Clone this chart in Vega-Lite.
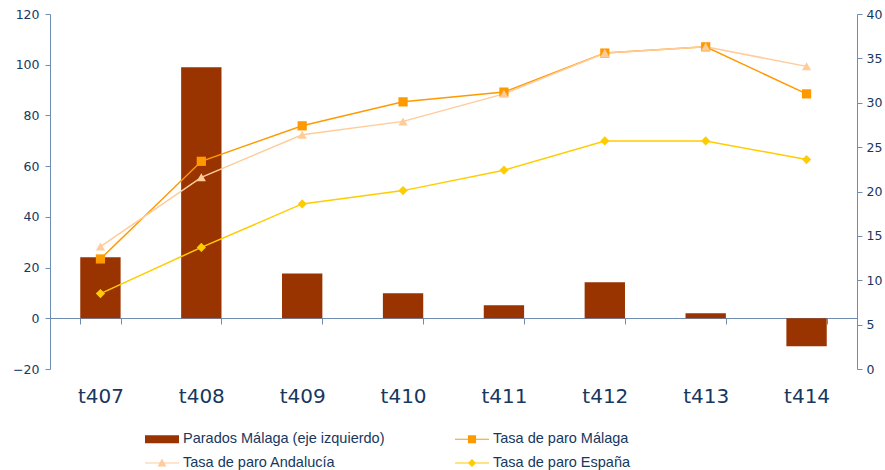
{
  "$schema": "https://vega.github.io/schema/vega-lite/v6.json",
  "width": 807,
  "height": 355,
  "autosize": "none",
  "padding": {"left": 50, "top": 14, "right": 28, "bottom": 101},
  "background": "white",
  "config": {
    "view": {"stroke": null},
    "axis": {"grid": false, "domainColor": "#6F8DB0", "tickColor": "#6F8DB0", "labelColor": "#17375E", "labelFont": "DejaVu Sans", "labelFontSize": 12.5, "titleFontSize": 0},
    "line": {"strokeWidth": 1.5}
  },
  "data": {
    "values": [
      {"periodo": "t407", "serie": "Parados Málaga (eje izquierdo)", "valor": 24.1},
      {"periodo": "t408", "serie": "Parados Málaga (eje izquierdo)", "valor": 99},
      {"periodo": "t409", "serie": "Parados Málaga (eje izquierdo)", "valor": 17.7},
      {"periodo": "t410", "serie": "Parados Málaga (eje izquierdo)", "valor": 9.9},
      {"periodo": "t411", "serie": "Parados Málaga (eje izquierdo)", "valor": 5.1},
      {"periodo": "t412", "serie": "Parados Málaga (eje izquierdo)", "valor": 14.2},
      {"periodo": "t413", "serie": "Parados Málaga (eje izquierdo)", "valor": 2.0},
      {"periodo": "t414", "serie": "Parados Málaga (eje izquierdo)", "valor": -11.0},
      {"periodo": "t407", "serie": "Tasa de paro Málaga", "valor": 12.4},
      {"periodo": "t408", "serie": "Tasa de paro Málaga", "valor": 23.4},
      {"periodo": "t409", "serie": "Tasa de paro Málaga", "valor": 27.4},
      {"periodo": "t410", "serie": "Tasa de paro Málaga", "valor": 30.1},
      {"periodo": "t411", "serie": "Tasa de paro Málaga", "valor": 31.2},
      {"periodo": "t412", "serie": "Tasa de paro Málaga", "valor": 35.6},
      {"periodo": "t413", "serie": "Tasa de paro Málaga", "valor": 36.3},
      {"periodo": "t414", "serie": "Tasa de paro Málaga", "valor": 31.0},
      {"periodo": "t407", "serie": "Tasa de paro Andalucía", "valor": 13.8},
      {"periodo": "t408", "serie": "Tasa de paro Andalucía", "valor": 21.6},
      {"periodo": "t409", "serie": "Tasa de paro Andalucía", "valor": 26.4},
      {"periodo": "t410", "serie": "Tasa de paro Andalucía", "valor": 27.9},
      {"periodo": "t411", "serie": "Tasa de paro Andalucía", "valor": 31.0},
      {"periodo": "t412", "serie": "Tasa de paro Andalucía", "valor": 35.6},
      {"periodo": "t413", "serie": "Tasa de paro Andalucía", "valor": 36.3},
      {"periodo": "t414", "serie": "Tasa de paro Andalucía", "valor": 34.1},
      {"periodo": "t407", "serie": "Tasa de paro España", "valor": 8.5},
      {"periodo": "t408", "serie": "Tasa de paro España", "valor": 13.7},
      {"periodo": "t409", "serie": "Tasa de paro España", "valor": 18.6},
      {"periodo": "t410", "serie": "Tasa de paro España", "valor": 20.1},
      {"periodo": "t411", "serie": "Tasa de paro España", "valor": 22.4},
      {"periodo": "t412", "serie": "Tasa de paro España", "valor": 25.7},
      {"periodo": "t413", "serie": "Tasa de paro España", "valor": 25.7},
      {"periodo": "t414", "serie": "Tasa de paro España", "valor": 23.6}
    ]
  },
  "encoding": {
    "x": {
      "field": "periodo", "type": "nominal", "sort": null,
      "scale": {"paddingInner": 0.6, "paddingOuter": 0.3},
      "axis": {"title": null, "orient": "bottom", "offset": -51, "tickBand": "extent", "tickSize": 6, "labelAngle": 0, "labelPadding": 62, "labelFontSize": 20, "labelFont": "DejaVu Sans", "labelColor": "#17375E"}
    },
    "color": {
      "field": "serie", "type": "nominal",
      "scale": {
        "domain": ["Parados Málaga (eje izquierdo)", "Tasa de paro Andalucía", "Tasa de paro Málaga", "Tasa de paro España"],
        "range": ["#993300", "#FFCC99", "#FF9900", "#FFCC00"]
      },
      "legend": {
        "title": null, "orient": "none", "legendX": 95, "legendY": 408, "columns": 2,
        "columnPadding": 70, "rowPadding": -17, "symbolSize": 1156, "labelOffset": 4,
        "labelFont": "Liberation Sans", "labelFontSize": 14.5, "labelColor": "#17375E", "labelLimit": 400,
        "encode": {
          "symbols": {
            "update": {
              "shape": {"signal": "datum.value === 'Parados Málaga (eje izquierdo)' ? 'M-1,-0.24H1V0.24H-1Z' : datum.value === 'Tasa de paro Málaga' ? 'M-1,-0.03H1V0.03H-1Z M-0.24,-0.24H0.24V0.24H-0.24Z' : datum.value === 'Tasa de paro Andalucía' ? 'M-1,-0.03H1V0.03H-1Z M0,-0.26L0.26,0.2H-0.26Z' : 'M-1,-0.03H1V0.03H-1Z M0,-0.24L0.24,0L0,0.24L-0.24,0Z'"},
              "fill": {"scale": "color", "field": "value"},
              "strokeWidth": {"value": 0},
              "opacity": {"value": 1}
            }
          }
        }
      }
    }
  },
  "layer": [
    {
      "transform": [{"filter": "datum.serie === 'Parados Málaga (eje izquierdo)'"}],
      "mark": {"type": "bar"},
      "encoding": {
        "y": {"field": "valor", "type": "quantitative", "scale": {"domain": [-20, 120], "nice": false, "zero": false},
          "axis": {"orient": "left", "title": null, "values": [-20, 0, 20, 40, 60, 80, 100, 120], "tickSize": 5, "labelPadding": 6}}
      }
    },
    {
      "transform": [{"filter": "datum.serie !== 'Parados Málaga (eje izquierdo)'"}],
      "encoding": {
        "y": {"field": "valor", "type": "quantitative", "scale": {"domain": [0, 40], "nice": false},
          "axis": {"orient": "right", "title": null, "values": [0, 5, 10, 15, 20, 25, 30, 35, 40], "tickSize": 5, "labelPadding": 4}}
      },
      "layer": [
        {"mark": {"type": "line", "strokeWidth": 1.5}},
        {
          "mark": {"type": "point", "filled": true, "opacity": 1},
          "encoding": {
            "shape": {"field": "serie", "type": "nominal", "legend": null,
              "scale": {"domain": ["Tasa de paro Málaga", "Tasa de paro Andalucía", "Tasa de paro España"], "range": ["square", "triangle-up", "diamond"]}},
            "size": {"value": 85}
          }
        }
      ]
    }
  ],
  "resolve": {"scale": {"y": "independent"}}
}
